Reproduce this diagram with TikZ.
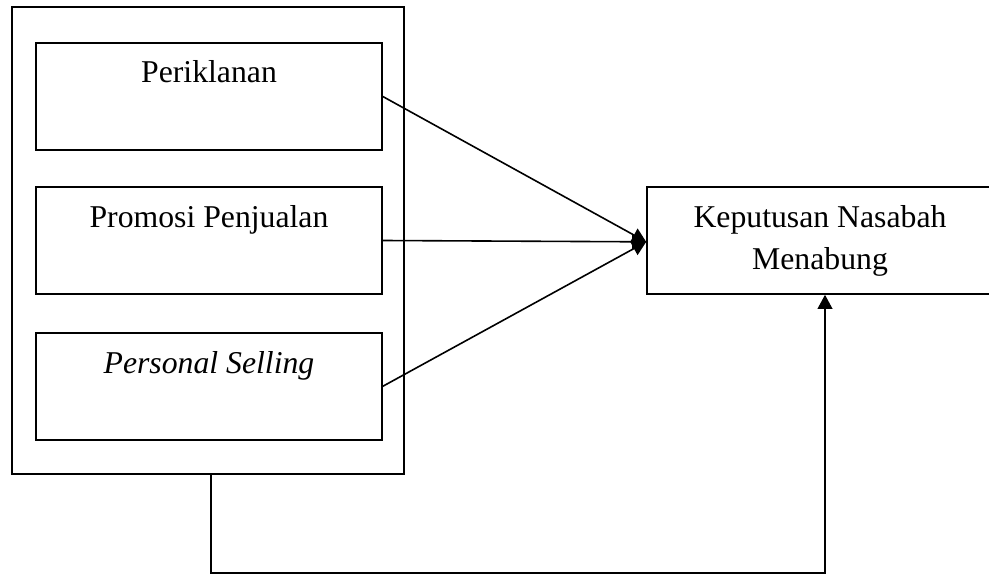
\documentclass[tikz,border=0pt]{standalone}
\usepackage{fontspec}
\setmainfont{Liberation Serif}
\usepackage{tikz}
\usetikzlibrary{arrows.meta}

\begin{document}
\begin{tikzpicture}[x=0.75pt, y=-0.75pt, line width=1.2pt,
    font=\fontsize{23.8}{31.5}\selectfont,
    kotak/.style={draw, rectangle, minimum width=259.5pt, minimum height=80.25pt, inner sep=0pt},
    panah/.style={-{Triangle[length=10.5pt, width=11pt]}}]
            \useasboundingbox (0,0) rectangle (989,574);
            % Nodes
            \node[draw, rectangle, minimum width=294pt, minimum height=350.25pt, inner sep=0pt] (variabel) at (208,240.5) {};
            \node[kotak, label={[anchor=base, yshift=-30pt]north:Periklanan}] (periklanan) at (209,96.5) {};
            \node[kotak, label={[anchor=base, yshift=-30.75pt]north:Promosi Penjualan}] (promosi) at (209,240.5) {};
            \node[kotak, label={[anchor=base, yshift=-30.75pt]north:\textit{Personal Selling}}] (selling) at (209,386.3) {};
            \node[kotak, align=center] (keputusan) at (820,240.5) {Keputusan Nasabah\\Menabung};
            % Arrows
            \draw[panah] (periklanan.east) -- ([yshift=-1pt]keputusan.west);
            \draw[panah] (promosi.east) -- ([yshift=-1pt]keputusan.west);
            \draw[panah] (selling.east) -- ([yshift=-1pt]keputusan.west);
            \draw[panah] ([xshift=2.25pt]variabel.south) -- ++(0,98) -| ([xshift=3.75pt]keputusan.south);
        \end{tikzpicture}
\end{document}
